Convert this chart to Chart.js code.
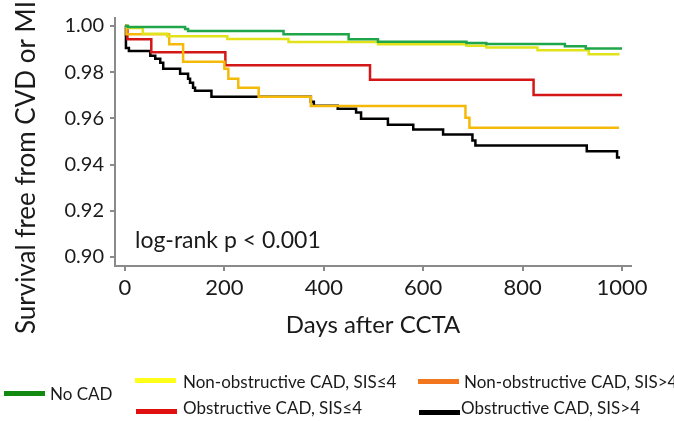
<!DOCTYPE html>
<html>
<head>
<meta charset="utf-8">
<script src="https://cdn.jsdelivr.net/npm/chart.js@4.4.1/dist/chart.umd.min.js"></script>
<style>
  html, body { margin: 0; padding: 0; background: #fff; }
  #wrap { position: relative; width: 674px; height: 421px; overflow: hidden; font-family: Lato, sans-serif; }
  #chart { position: absolute; left: 0; top: 0; }
  .lg-swatch { position: absolute; width: 41px; height: 5px; }
  .lg-text { position: absolute; font-size: 17px; line-height: 20px; color: #1a1a1a; white-space: nowrap; }
</style>
</head>
<body>
<div id="wrap">
  <canvas id="chart" width="674" height="421"></canvas>
</div>
<script>
// Data
const seriesNames = ['No CAD', 'Non-obstructive CAD, SIS≤4', 'Non-obstructive CAD, SIS>4', 'Obstructive CAD, SIS≤4', 'Obstructive CAD, SIS>4'];
const lineColors = ['#1fa64a', '#e2e21a', '#f5b90a', '#d41616', '#000000'];
const legendColors = ['#128a12', '#ffff1a', '#f2761e', '#e01010', '#000000'];

const noCadDays = [0, 6, 121, 127, 319, 450, 509, 687, 727, 885, 927, 1000];
const noCadSurv = [1.0, 0.9996, 0.9987, 0.9978, 0.9964, 0.9943, 0.9932, 0.9926, 0.9922, 0.9912, 0.9902, 0.9902];

const nonObsLowDays = [0, 6, 36, 85, 206, 329, 509, 687, 727, 830, 933, 995];
const nonObsLowSurv = [1.0, 0.9991, 0.9966, 0.9955, 0.9944, 0.9931, 0.9921, 0.9914, 0.9907, 0.9895, 0.9878, 0.9878];

const nonObsHighDays = [0, 3, 89, 117, 200, 208, 228, 269, 374, 685, 693, 994];
const nonObsHighSurv = [1.0, 0.9964, 0.9921, 0.9845, 0.9815, 0.9772, 0.9733, 0.9694, 0.9654, 0.9603, 0.956, 0.956];

const obsLowDays = [0, 5, 53, 202, 493, 822, 1000];
const obsLowSurv = [1.0, 0.9942, 0.9886, 0.983, 0.9767, 0.9701, 0.9701];

const obsHighDays = [0, 2, 8, 51, 61, 71, 77, 111, 127, 131, 137, 141, 174, 374, 380, 428, 465, 475, 529, 580, 640, 699, 705, 929, 990, 996];
const obsHighSurv = [1.0, 0.9905, 0.9892, 0.9871, 0.9858, 0.9841, 0.9815, 0.9793, 0.9772, 0.9754, 0.9733, 0.972, 0.9694, 0.9672, 0.9655, 0.9642, 0.9625, 0.9599, 0.9573, 0.9552, 0.953, 0.9504, 0.9483, 0.9458, 0.9431, 0.9431];

const xTicks = [0, 200, 400, 600, 800, 1000];
const yTicks = [0.90, 0.92, 0.94, 0.96, 0.98, 1.00];

const xTitle = 'Days after CCTA';
const yTitle = 'Survival free from CVD or MI';
const note = 'log-rank p < 0.001';

const FONT = 'Lato';
const AXIS = '#8a8a8a';
const TEXT = '#1a1a1a';

const toPoints = (days, surv) => days.map((d, i) => ({ x: d, y: surv[i] }));
const series = [
  toPoints(noCadDays, noCadSurv),
  toPoints(nonObsLowDays, nonObsLowSurv),
  toPoints(nonObsHighDays, nonObsHighSurv),
  toPoints(obsLowDays, obsLowSurv),
  toPoints(obsHighDays, obsHighSurv)
];

// y title (runs off the top like the original) + log-rank note
const extraText = {
  id: 'extraText',
  afterDraw(chart) {
    const ctx = chart.ctx;
    ctx.save();
    ctx.fillStyle = TEXT;
    ctx.font = '26px ' + FONT;
    ctx.translate(27, 334);
    ctx.rotate(-Math.PI / 2);
    ctx.textAlign = 'left';
    ctx.textBaseline = 'middle';
    ctx.fillText(yTitle, 0, 0);
    ctx.restore();

    ctx.save();
    ctx.fillStyle = TEXT;
    ctx.font = '23px ' + FONT;
    ctx.textAlign = 'left';
    ctx.textBaseline = 'alphabetic';
    ctx.fillText(note, 135, 248);
    ctx.restore();
  }
};

new Chart(document.getElementById('chart'), {
  type: 'line',
  data: {
    datasets: series.map((pts, i) => ({
      label: seriesNames[i],
      data: pts,
      borderColor: lineColors[i],
      borderWidth: 2.5,
      stepped: true,
      pointRadius: 0,
      fill: false,
      order: i === 0 ? -1 : i
    }))
  },
  options: {
    responsive: false,
    animation: false,
    layout: { padding: { left: 0, top: 17, right: 43, bottom: 75 } },
    plugins: { legend: { display: false }, tooltip: { enabled: false } },
    scales: {
      x: {
        type: 'linear',
        min: -20,
        max: 1018,
        afterBuildTicks: s => { s.ticks = xTicks.map(v => ({ value: v })); },
        afterFit: s => { s.height = 80; },
        grid: { drawOnChartArea: false, tickLength: 5, color: AXIS, lineWidth: 2 },
        border: { color: AXIS, width: 2 },
        ticks: { font: { family: FONT, size: 22 }, color: TEXT, padding: 4, maxRotation: 0, callback: v => String(v) },
        title: { display: true, text: xTitle, font: { family: FONT, size: 24 }, color: TEXT, padding: { top: 0, bottom: 6 } }
      },
      y: {
        min: 0.89612,
        max: 1.00345,
        afterBuildTicks: s => { s.ticks = yTicks.map(v => ({ value: v })); },
        afterFit: s => { s.width = 115; },
        grid: { drawOnChartArea: false, tickLength: 5, color: AXIS, lineWidth: 2 },
        border: { color: AXIS, width: 2 },
        ticks: { font: { family: FONT, size: 20 }, color: TEXT, padding: 6, callback: v => v.toFixed(2) }
      }
    }
  },
  plugins: [extraText]
});

// staggered legend under the plot
const legendSpots = [
  { sx: 4, sy: 391, tx: 50, ty: 384 },
  { sx: 135, sy: 378, tx: 183, ty: 372 },
  { sx: 418, sy: 379, tx: 464, ty: 372 },
  { sx: 136, sy: 409, tx: 183, ty: 398 },
  { sx: 419, sy: 410, tx: 461, ty: 398 }
];
const wrap = document.getElementById('wrap');
seriesNames.forEach((name, i) => {
  const p = legendSpots[i];
  const sw = document.createElement('div');
  sw.className = 'lg-swatch';
  sw.style.left = p.sx + 'px';
  sw.style.top = p.sy + 'px';
  sw.style.background = legendColors[i];
  wrap.appendChild(sw);
  const tx = document.createElement('div');
  tx.className = 'lg-text';
  tx.style.left = p.tx + 'px';
  tx.style.top = p.ty + 'px';
  tx.textContent = name;
  wrap.appendChild(tx);
});
</script>
</body>
</html>
